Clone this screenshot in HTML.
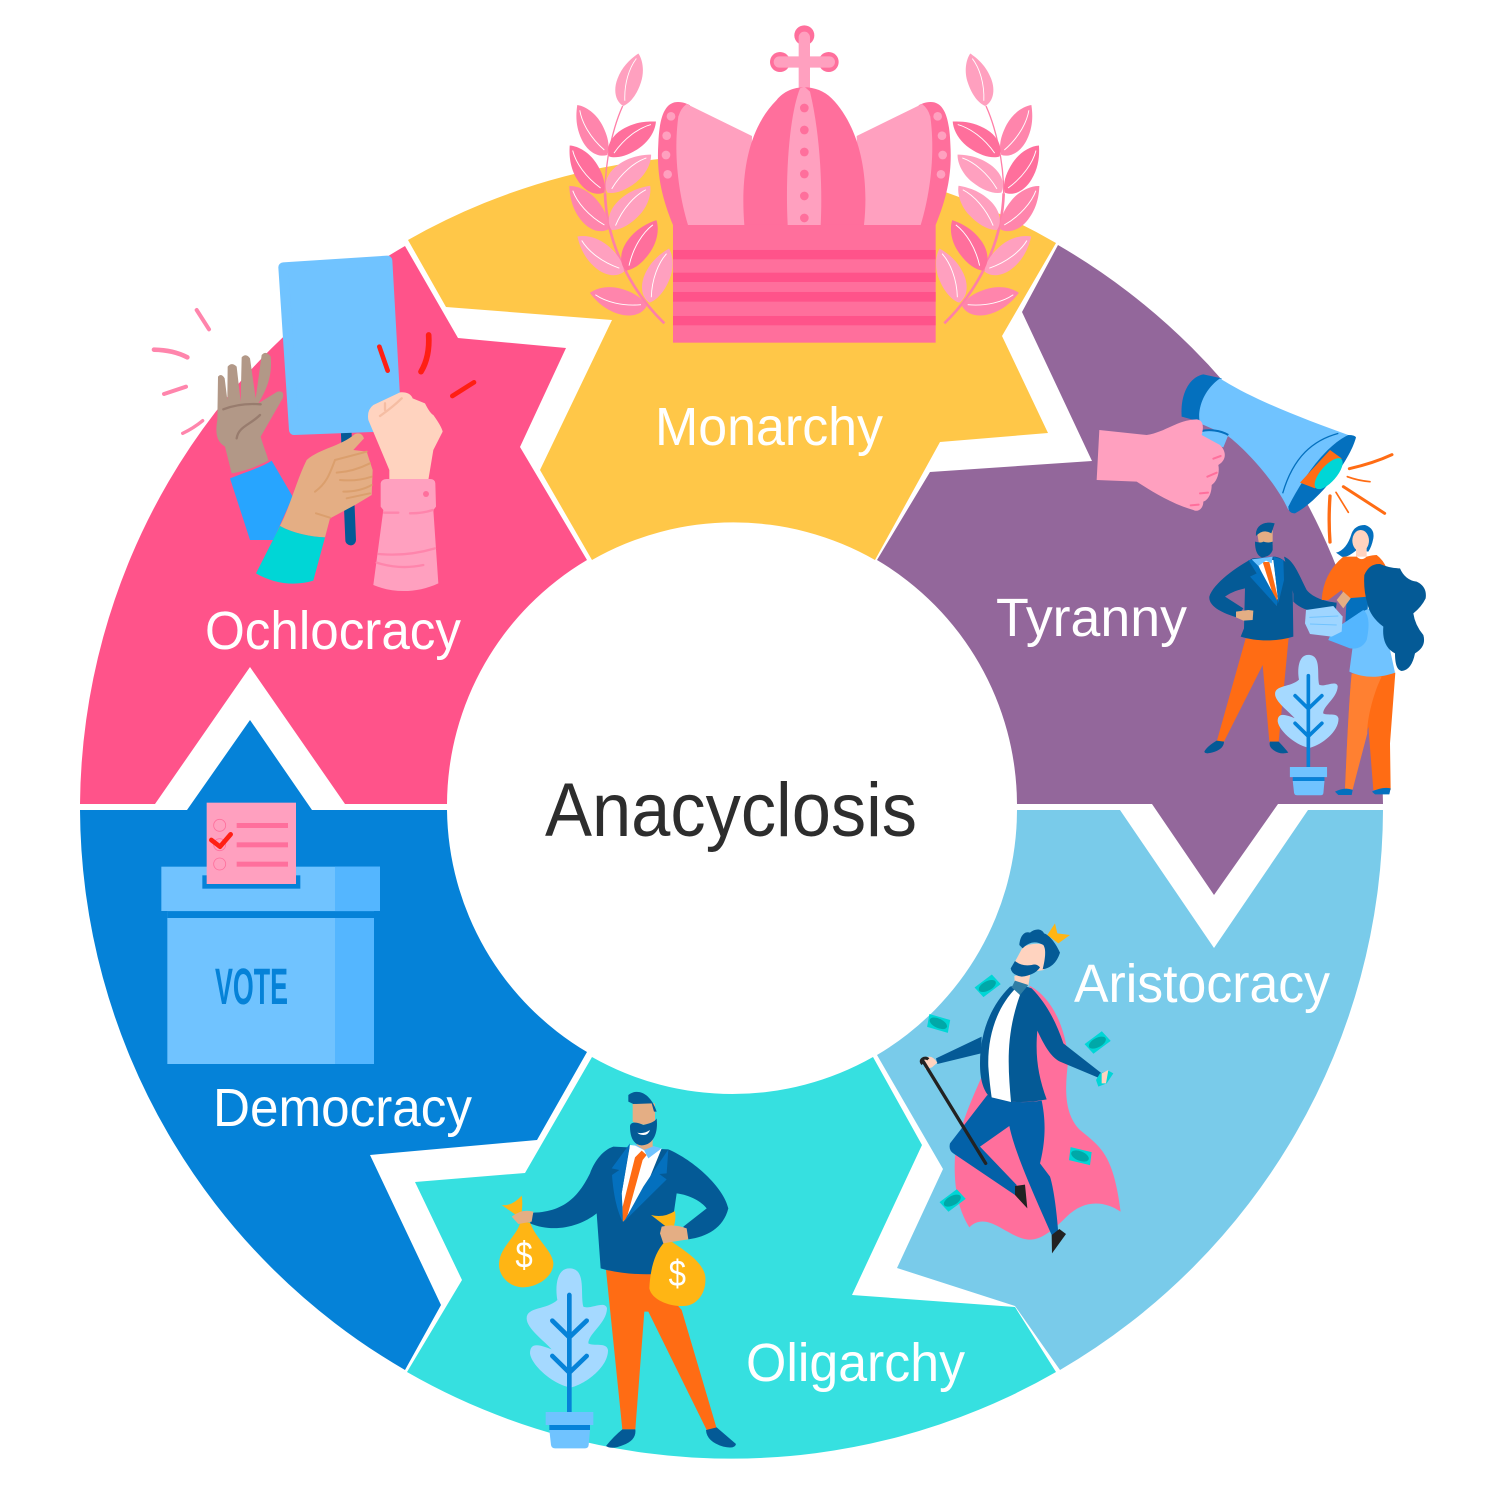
<!DOCTYPE html>
<html><head><meta charset="utf-8"><style>
html,body{margin:0;padding:0;background:#fff}
svg{display:block}
text{font-family:"Liberation Sans",sans-serif}
</style></head><body>
<svg width="1500" height="1490" viewBox="0 0 1500 1490" xmlns="http://www.w3.org/2000/svg">
<defs>
<g id="leaf"><path d="M0 0C4 -16 22 -26 45 -24C70 -22 88 -10 100 0C90 12 70 20 50 19C25 18 8 10 0 0Z"/><path d="M10 0C40 -10 70 -9 90 -1" fill="none" stroke="#fff" stroke-width="1.6"/></g>
<g id="laurel">
<path d="M343 910C250 820 170 680 165 520" fill="none" stroke="#FF7FA8" stroke-width="8"/>
<path d="M165 520C165 420 190 320 218 258" fill="none" stroke="#FF7FA8" stroke-width="4"/>
<use href="#leaf" fill="#FFA0BF" transform="translate(220,258) rotate(-74) scale(1.64)"/>
<use href="#leaf" fill="#FF85AC" transform="translate(172,405) rotate(-121) scale(1.75)"/>
<use href="#leaf" fill="#FF6F9C" transform="translate(178,410) rotate(-37) scale(1.75)"/>
<use href="#leaf" fill="#FF6F9C" transform="translate(162,518) rotate(-126) scale(1.75)"/>
<use href="#leaf" fill="#FFA0BF" transform="translate(172,518) rotate(-41) scale(1.74)"/>
<use href="#leaf" fill="#FF85AC" transform="translate(175,628) rotate(-132) scale(1.75)"/>
<use href="#leaf" fill="#FFA0BF" transform="translate(185,630) rotate(-49) scale(1.76)"/>
<use href="#leaf" fill="#FFA0BF" transform="translate(222,755) rotate(-143) scale(1.75)"/>
<use href="#leaf" fill="#FF6F9C" transform="translate(228,752) rotate(-59) scale(1.77)"/>
<use href="#leaf" fill="#FF85AC" transform="translate(290,858) rotate(-167) scale(1.75)"/>
<use href="#leaf" fill="#FFA0BF" transform="translate(298,848) rotate(-70) scale(1.73)"/>
</g>
<g id="plant">
<path d="M268 565C230 565 225 620 232 660C200 690 140 680 140 715C140 745 190 780 215 808C190 800 150 780 150 820C155 860 230 920 275 922C320 910 385 860 384 810C380 785 340 800 325 790C325 760 380 730 381 685C375 660 330 690 310 680C300 640 320 565 268 565Z" fill="#A5D9FF"/>
<path d="M268 645V1000M217 722L268 772L320 722M217 828L268 878L320 828" fill="none" stroke="#0582D8" stroke-width="14" stroke-linecap="round"/>
<path d="M197 996H340V1035H197Z" fill="#70C3FF"/>
<path d="M208 1035H330V1050H208Z" fill="#0582D8"/>
<path d="M208 1050H330L326 1095Q325 1105 315 1105H225Q215 1105 213 1095Z" fill="#70C3FF"/>
</g>
<g id="money"><path d="M-36 -14L28 -24L38 14L-26 24Z" fill="#00D6D6"/><ellipse cx="0" cy="0" rx="28" ry="14" fill="#00A8A8"/></g>
</defs>

<!-- wheel segments -->
<path d="M408 240A651 651 0 0 1 1056 243L1002 336L1048 433L940 442L875 560A285 285 0 0 0 592 560L540 470L612 320L446 307Z" fill="#FFC748"/>
<path d="M1058 245A651 651 0 0 1 1383 804H1278L1214 895L1152 804H1017A285 285 0 0 0 877 560L930 472L1092 461L1022 312Z" fill="#93679B"/>
<path d="M1383 810A651 651 0 0 1 1060 1370L1015 1306L897 1268L943 1169L877 1055A285 285 0 0 0 1017 810H1120L1214 948L1308 810Z" fill="#79CBEA"/>
<path d="M1056 1372A651 651 0 0 1 407 1372L462 1280L415 1182L525 1173L592 1057A285 285 0 0 0 873 1057L922 1145L852 1295L1015 1307Z" fill="#36E0E0"/>
<path d="M405 1370A651 651 0 0 1 80 810H187L250 720L312 810H447A285 285 0 0 0 587 1052L537 1140L370 1155L441 1305Z" fill="#0582D8"/>
<path d="M405 246A651 651 0 0 0 80 804H155L250 667L345 804H447A285 285 0 0 1 587 560L520 447L566 348L458 338Z" fill="#FF538A"/>

<!-- labels -->
<text x="545" y="836" font-size="76" fill="#2D2D2D" textLength="372" lengthAdjust="spacingAndGlyphs">Anacyclosis</text>
<text x="655" y="445" font-size="54" fill="#fff" textLength="228" lengthAdjust="spacingAndGlyphs">Monarchy</text>
<text x="996" y="636" font-size="54" fill="#fff" textLength="191" lengthAdjust="spacingAndGlyphs">Tyranny</text>
<text x="1074" y="1002" font-size="54" fill="#fff" textLength="256" lengthAdjust="spacingAndGlyphs">Aristocracy</text>
<text x="746" y="1381" font-size="54" fill="#fff" textLength="219" lengthAdjust="spacingAndGlyphs">Oligarchy</text>
<text x="213" y="1126" font-size="54" fill="#fff" textLength="259" lengthAdjust="spacingAndGlyphs">Democracy</text>
<text x="205" y="649" font-size="54" fill="#fff" textLength="256" lengthAdjust="spacingAndGlyphs">Ochlocracy</text>

<!-- crown -->
<g transform="translate(550,20) scale(.33333)">
<use href="#laurel"/>
<use href="#laurel" transform="translate(1526,0) scale(-1,1)"/>
<circle cx="763" cy="46" r="30" fill="#FF6F9C"/><circle cx="690" cy="126" r="30" fill="#FF6F9C"/><circle cx="836" cy="126" r="30" fill="#FF6F9C"/>
<path d="M763 52V210M688 126H838" stroke="#FFA0BF" stroke-width="34" stroke-linecap="round" fill="none"/>
<path d="M369 615C330 520 320 450 325 370C328 290 345 245 385 246C400 246 415 253 420 256L420 615Z" fill="#FF6F9C"/>
<path d="M1157 615C1196 520 1206 450 1201 370C1198 290 1181 245 1141 246C1126 246 1111 253 1106 256L1106 615Z" fill="#FF6F9C"/>
<path d="M414 615C385 520 370 400 385 290Q392 265 410 252L606 348L600 615Z" fill="#FFA0BF"/>
<path d="M1112 615C1141 520 1156 400 1141 290Q1134 265 1116 252L920 348L926 615Z" fill="#FFA0BF"/>
<path d="M583 615C570 450 600 320 680 240C720 190 800 190 845 235C920 310 960 450 942 615Z" fill="#FF6F9C"/>
<path d="M713 615C705 450 720 280 750 205L763 200L780 215C810 340 818 500 812 615Z" fill="#FFA0BF"/>
<g fill="#FF6F9C"><circle cx="763" cy="264" r="13"/><circle cx="763" cy="330" r="13"/><circle cx="763" cy="396" r="13"/><circle cx="763" cy="462" r="13"/><circle cx="763" cy="528" r="13"/><circle cx="763" cy="594" r="13"/></g>
<g fill="#FFA0BF"><circle cx="363" cy="289" r="13"/><circle cx="350" cy="347" r="13"/><circle cx="348" cy="405" r="13"/><circle cx="353" cy="463" r="13"/><circle cx="1163" cy="289" r="13"/><circle cx="1176" cy="347" r="13"/><circle cx="1178" cy="405" r="13"/><circle cx="1173" cy="463" r="13"/></g>
<rect x="369" y="615" width="788" height="353" fill="#FF6F9C"/>
<g fill="#FF538A"><rect x="369" y="690" width="788" height="28"/><rect x="369" y="758" width="788" height="28"/><rect x="369" y="816" width="788" height="29"/><rect x="369" y="888" width="788" height="28"/></g>
</g>

<!-- tyranny -->
<g transform="translate(1080,360) scale(.33333)">
<path d="M370 43C330 50 300 100 305 170L360 185L425 55Z" fill="#0470BE"/>
<path d="M420 55C520 120 680 180 805 225L625 450C590 370 500 270 440 225L360 190C350 150 370 90 420 55Z" fill="#70C3FF"/>
<path d="M775 220C700 240 640 290 608 400" fill="none" stroke="#0470BE" stroke-width="4"/>
<path d="M828 232C810 300 720 420 645 460Q625 460 625 440C660 370 730 260 805 225Q825 225 828 232Z" fill="#0470BE"/>
<path d="M750 270L785 295L705 385L660 368Z" fill="#FF6C14"/>
<ellipse cx="746" cy="341" rx="58" ry="24" transform="rotate(-49 746 341)" fill="#00D6D6"/>
<path d="M365 213C385 208 420 210 445 225L430 262L355 235Z" fill="#70C3FF"/>
<path d="M365 213C385 208 420 210 445 225" fill="none" stroke="#0470BE" stroke-width="6"/>
<path d="M58 210L200 225C260 215 290 180 350 178C370 180 372 200 365 225L420 255C440 275 440 300 415 315C420 340 410 365 395 375C395 400 385 420 370 425C370 445 355 458 340 450C270 430 210 390 170 365L50 360Z" fill="#FFA0BF"/>
<path d="M400 296L422 288M382 350L410 338M360 400L384 398M332 436L356 434" stroke="#FF6F9C" stroke-width="6" stroke-linecap="round"/>
<g fill="none" stroke="#FF6C14" stroke-linecap="round"><path d="M808 326Q880 310 936 284" stroke-width="9"/><path d="M802 350Q835 362 870 365" stroke-width="5"/><path d="M790 380L914 460" stroke-width="9"/><path d="M768 397L805 457" stroke-width="5"/><path d="M750 408Q745 480 750 546" stroke-width="10"/></g>
<!-- man -->
<path d="M497 835L410 1145L432 1145L548 915L568 1145L596 1145L626 832Z" fill="#FF6C14"/>
<path d="M410 1142L432 1145Q432 1165 405 1175Q375 1185 373 1175Q380 1160 410 1142ZM570 1145L596 1145Q615 1165 625 1178Q600 1185 580 1170Q565 1160 570 1145Z" fill="#045A96"/>
<path d="M518 595C470 620 400 670 388 710C385 740 430 760 470 772L490 745L435 710C455 695 475 690 495 685L492 805L482 830C530 845 590 845 640 830L638 690C670 720 690 730 770 732L765 745C710 760 670 755 640 725L640 640C625 610 610 595 585 590Z" fill="#045A96"/>
<path d="M612 590C640 600 655 640 680 690C700 715 740 725 770 728L768 746C720 755 680 745 640 700Z" fill="#045A96"/>
<path d="M527 600L580 600L595 720L560 670Z" fill="#fff"/>
<path d="M548 606L568 606L593 710L590 738L565 660Z" fill="#FF6C14"/>
<path d="M505 600L525 600L593 725L590 738L510 650L530 640ZM580 590L610 600L612 660L595 730Z" fill="#0470BE"/>
<path d="M515 598L578 590L575 610L558 602L535 618Z" fill="#70C3FF"/>
<path d="M530 510H578V555Q560 590 540 570Z" fill="#E4AE84"/>
<path d="M525 545Q545 550 550 545Q565 550 578 545V570Q570 592 545 592Q525 585 525 545Z" fill="#045A96"/>
<path d="M528 528C525 495 555 482 584 490L574 520Q550 505 528 528Z" fill="#045A96"/>
<path d="M468 755L505 750L520 752L518 780L490 782L468 772Z" fill="#E4AE84"/>
<!-- woman back -->
<path d="M768 578Q800 570 815 520Q825 495 855 495Q885 505 880 535Q875 560 865 575L830 570Q800 595 785 590Z" fill="#0470BE"/>
<ellipse cx="842" cy="542" rx="25" ry="32" fill="#FFD3BF"/>
<path d="M828 560H860V590H828Z" fill="#FFD3BF"/>
<path d="M790 590Q820 590 830 590Q845 605 860 590Q880 585 890 585Q910 600 920 625L860 720L800 720L785 690L745 720L725 720Q730 640 790 590Z" fill="#FF6C14"/>
<path d="M800 715L865 710L860 810L795 810Z" fill="#0470BE"/>
<path d="M770 720L790 695L812 715L790 745Z" fill="#E4AE84"/>
<path d="M815 940C850 955 900 950 946 938L930 1150L932 1290L880 1290L865 1100L818 1288L795 1288C800 1180 805 1050 815 940Z" fill="#FF6C14"/>
<path d="M815 940L905 950C880 1000 860 1080 862 1120L818 1288L795 1288C800 1180 805 1050 815 940Z" fill="#FF8031"/>
<path d="M765 1295Q795 1280 818 1290L815 1305H775ZM876 1295Q905 1280 932 1285L928 1303H885Z" fill="#0470BE"/>
<!-- woman front -->
<path d="M835 760L880 740L915 800L945 938C900 955 850 955 808 935L818 860L745 840L760 805L818 810Z" fill="#70C3FF"/>
<path d="M760 810L850 750Q875 770 860 840Q845 870 810 865L745 840Z" fill="#54B6FF"/>
<path d="M853 645Q868 610 900 612Q930 625 960 625Q975 660 1010 665Q1042 680 1037 715Q1025 740 1000 760Q1005 795 1030 825Q1040 860 1005 880Q995 930 965 933Q945 930 945 880Q905 860 910 800Q870 770 862 730Q850 690 853 645Z" fill="#045A96"/>
<path d="M678 750L760 738L788 770L785 815L755 830L690 822L675 790Z" fill="#9FD5FF"/>
<path d="M688 772L775 768M690 792L770 795" stroke="#70C3FF" stroke-width="3"/>
<use href="#plant" transform="translate(476,444) scale(.78)"/>
</g>

<!-- aristocracy -->
<g transform="translate(900,910) scale(.33333)">
<path d="M390 228C450 260 495 340 505 450C495 530 490 610 540 660C600 710 640 730 662 905C610 870 550 870 500 920C460 960 420 995 380 988C320 980 260 900 208 952C175 900 160 830 165 740C180 640 220 560 245 500Z" fill="#FF6F9C"/>
<path d="M108 445L245 380L243 430L112 462Z" fill="#045A96"/>
<path d="M72 445Q95 430 112 458L96 472L75 478Z" fill="#FFD3BF"/>
<path d="M262 555L150 700Q145 720 160 730L345 855L350 825L240 710L328 648C345 730 400 850 455 975L475 970C470 900 460 830 450 800L420 760C440 680 435 620 425 572C370 580 310 578 262 555Z" fill="#0361A8"/>
<path d="M345 828L375 824L382 895L345 855ZM455 975L478 957L498 972L456 1030Z" fill="#222"/>
<path d="M343 198L392 185L385 228L345 232Z" fill="#FFD3BF"/>
<path d="M330 230C270 290 240 370 240 460C240 510 250 540 268 560C320 580 380 580 440 568C415 500 405 440 412 362C430 400 450 440 480 455L600 505L605 490L490 400C470 340 440 280 395 235C370 225 350 225 330 230Z" fill="#045A96"/>
<path d="M350 232C290 290 262 380 265 470C268 510 272 540 275 562L333 576C325 480 315 380 360 255Z" fill="#fff"/>
<path d="M335 232L345 212L385 225L360 255Z" fill="#2F7EA5"/>
<path d="M368 112Q400 95 437 105L432 180L400 185Q365 178 345 155Z" fill="#FFD3BF"/>
<path d="M345 153Q365 170 395 165Q410 160 420 172Q405 195 365 200Q335 195 332 175Z" fill="#045A96"/>
<path d="M358 105C360 80 372 62 390 68C405 55 425 55 432 70C450 75 470 105 480 128C470 160 450 175 428 178C435 150 440 120 430 105C405 90 385 98 368 115Z" fill="#045A96"/>
<path d="M442 75L465 40L472 70L510 75L475 100Z" fill="#FFB514"/>
<path d="M70 455L257 760" stroke="#222" stroke-width="10" stroke-linecap="round"/>
<path d="M68 462C55 450 75 438 85 448" fill="none" stroke="#222" stroke-width="9"/>
<use href="#money" transform="translate(262,228) rotate(-28)"/>
<use href="#money" transform="translate(115,340) rotate(25)"/>
<use href="#money" transform="translate(592,398) rotate(-28)"/>
<use href="#money" transform="translate(540,738) rotate(22)"/>
<use href="#money" transform="translate(157,872) rotate(-28)"/>
<path d="M600 490L625 482L640 490L620 520L595 530L588 510Z" fill="#00D6D6"/>
<path d="M605 490L625 480L618 520L605 520Z" fill="#FFD3BF"/>
</g>

<!-- oligarchy -->
<g transform="translate(480,1080) scale(.33333)">
<use href="#plant"/>
<path d="M378 570L510 580L605 690L710 1045L680 1050L505 695L493 695L466 1048L427 1048Z" fill="#FF6C14"/>
<path d="M427 1048H466Q470 1080 430 1095Q395 1110 378 1098Q400 1070 427 1048ZM678 1050L710 1042L768 1092Q765 1108 730 1100Q680 1085 678 1050Z" fill="#045A96"/>
<path d="M400 200C370 210 345 240 330 280C300 340 260 395 160 398L150 430C220 460 300 440 350 400L362 565C430 585 510 585 555 580L590 340C630 345 665 365 680 385L610 440L625 478C680 470 730 445 745 385C730 320 640 240 565 208Z" fill="#045A96"/>
<path d="M450 195L545 205L490 340L430 425L425 340Z" fill="#fff"/>
<path d="M465 232L485 212L500 225L488 240L440 415L428 425L428 380Z" fill="#FF6C14"/>
<path d="M450 190L395 265L418 270L396 285C400 340 410 390 428 425L425 340ZM565 208L560 280L538 282L560 298L432 425L490 320Z" fill="#0470BE"/>
<path d="M452 190L492 210L505 235L545 205L510 195L470 195Z" fill="#70C3FF"/>
<path d="M475 160H518V200L492 210L470 195Z" fill="#E4AE84"/>
<path d="M458 70H525V130Q490 140 458 125Z" fill="#E4AE84"/>
<path d="M450 140C450 125 470 125 490 135C510 130 525 125 530 115C535 160 520 195 485 196C460 195 450 170 450 140Z" fill="#045A96"/>
<path d="M472 158Q490 163 510 150Q505 165 490 165Q478 165 472 158Z" fill="#fff"/>
<path d="M445 45C470 25 510 35 530 95L522 95L515 70L460 72L445 65Z" fill="#045A96"/>
<!-- bags -->
<path d="M122 425C110 470 60 500 57 550C55 590 90 622 130 622C180 620 222 585 220 548C215 510 170 480 150 428Z" fill="#FFB514"/>
<path d="M108 405L65 375Q95 380 125 347Q130 380 122 410Z" fill="#FFB514"/>
<path d="M95 410Q125 385 160 395L155 425L115 432Z" fill="#E4AE84"/>
<text x="106" y="563" font-size="112" fill="#fff" textLength="52" lengthAdjust="spacingAndGlyphs">$</text>
<path d="M555 485C520 520 510 580 508 625C515 660 570 680 610 678C650 678 680 640 676 590C670 545 610 510 575 485Z" fill="#FFB514"/>
<path d="M565 445L513 405Q550 415 585 393Q590 420 578 448Z" fill="#FFB514"/>
<path d="M545 440Q580 430 620 445L625 478L580 485L550 490L540 460Z" fill="#E4AE84"/>
<text x="566" y="618" font-size="112" fill="#fff" textLength="52" lengthAdjust="spacingAndGlyphs">$</text>
</g>

<!-- democracy -->
<g transform="translate(140,790) scale(.33333)">
<rect x="64" y="230" width="656" height="133" fill="#70C3FF"/>
<rect x="585" y="230" width="135" height="133" fill="#54B6FF"/>
<rect x="187" y="256" width="294" height="40" fill="#0582D8"/>
<rect x="200" y="38" width="268" height="244" fill="#FFA0BF"/>
<g fill="none" stroke="#FF6F9C" stroke-width="2.5"><circle cx="239" cy="106" r="18"/><circle cx="239" cy="164" r="18"/><circle cx="239" cy="222" r="18"/></g>
<g fill="#FF6F9C"><rect x="290" y="99" width="154" height="15"/><rect x="290" y="157" width="154" height="15"/><rect x="290" y="215" width="154" height="15"/></g>
<path d="M214 150L240 170L272 133" fill="none" stroke="#FF1F14" stroke-width="14" stroke-linecap="round" stroke-linejoin="round"/>
<rect x="82" y="365" width="620" height="457" fill="#70C3FF"/>
<rect x="585" y="365" width="117" height="457" fill="#54B6FF"/>
<rect x="82" y="365" width="620" height="19" fill="#0582D8"/>
<text x="225" y="642" font-size="152" font-weight="bold" fill="#0582D8" textLength="219" lengthAdjust="spacingAndGlyphs">VOTE</text>
</g>

<!-- ochlocracy -->
<g transform="translate(140,250) scale(.33333)">
<g fill="none" stroke="#FF85AC" stroke-linecap="round"><path d="M170 180L207 238" stroke-width="12"/><path d="M42 299Q100 300 142 322" stroke-width="14"/><path d="M72 432L138 410" stroke-width="12"/><path d="M128 550Q160 535 188 512" stroke-width="10"/></g>
<path d="M618 530L632 870" stroke="#045A96" stroke-width="32" stroke-linecap="round"/>
<path d="M430 52L742 32L770 528L462 540Z" fill="#70C3FF" stroke="#70C3FF" stroke-width="30" stroke-linejoin="round"/>
<g fill="none" stroke="#FF1F14" stroke-linecap="round"><path d="M718 290L743 362" stroke-width="14"/><path d="M866 255Q870 320 843 365" stroke-width="17"/><path d="M937 438L1002 397" stroke-width="14"/></g>
<path d="M275 670L255 590C230 575 225 550 232 510L234 380Q244 368 254 385L262 450L263 350Q275 335 290 350L302 455L305 322Q318 308 330 325L347 445L365 315Q378 300 392 320C397 370 385 410 355 460L412 425Q435 420 428 445L362 560C370 590 380 610 385 632C350 650 310 665 275 670Z" fill="#B29887"/>
<path d="M250 478Q300 458 362 463M290 565C295 530 330 525 360 495" fill="none" stroke="#987C6E" stroke-width="7" stroke-linecap="round"/>
<path d="M270 685C320 665 370 650 395 632L458 740L400 870L330 870Z" fill="#27A5FF"/>
<path d="M420 828C460 850 510 860 555 862L570 805L645 765L695 735L698 660L680 605L640 600L672 565Q665 545 645 552C600 590 540 595 500 630C470 690 450 770 420 828Z" fill="#E4AE84"/>
<path d="M525 725C560 700 570 670 585 630L680 605M590 668Q640 665 690 640M600 690Q650 695 695 680M610 725Q660 725 695 705M620 745L690 730M528 790L570 803" fill="none" stroke="#DB9F6D" stroke-width="6" stroke-linecap="round"/>
<path d="M420 828C460 850 510 860 555 862L520 992C460 1010 400 1000 348 970Z" fill="#00D6D6"/>
<path d="M748 690V660L685 510Q680 480 700 465L780 427Q810 425 818 445L855 460Q870 490 880 495Q905 530 908 545L880 600L865 690Z" fill="#FFD3BF"/>
<path d="M720 498Q760 470 785 445M735 460L735 480" fill="none" stroke="#F5BDA3" stroke-width="7" stroke-linecap="round"/>
<path d="M722 700Q725 687 740 687H870Q885 687 886 700L888 770L880 780L895 1000C830 1030 760 1030 700 1005L730 780L722 770Z" fill="#FFA0BF"/>
<circle cx="858" cy="732" r="9" fill="#FF6F9C"/>
<path d="M732 788H775M810 790Q850 790 878 780M715 912Q800 920 885 895M710 938Q780 960 850 945" fill="none" stroke="#FF85AC" stroke-width="7" stroke-linecap="round"/>
</g>
</svg>
</body></html>
